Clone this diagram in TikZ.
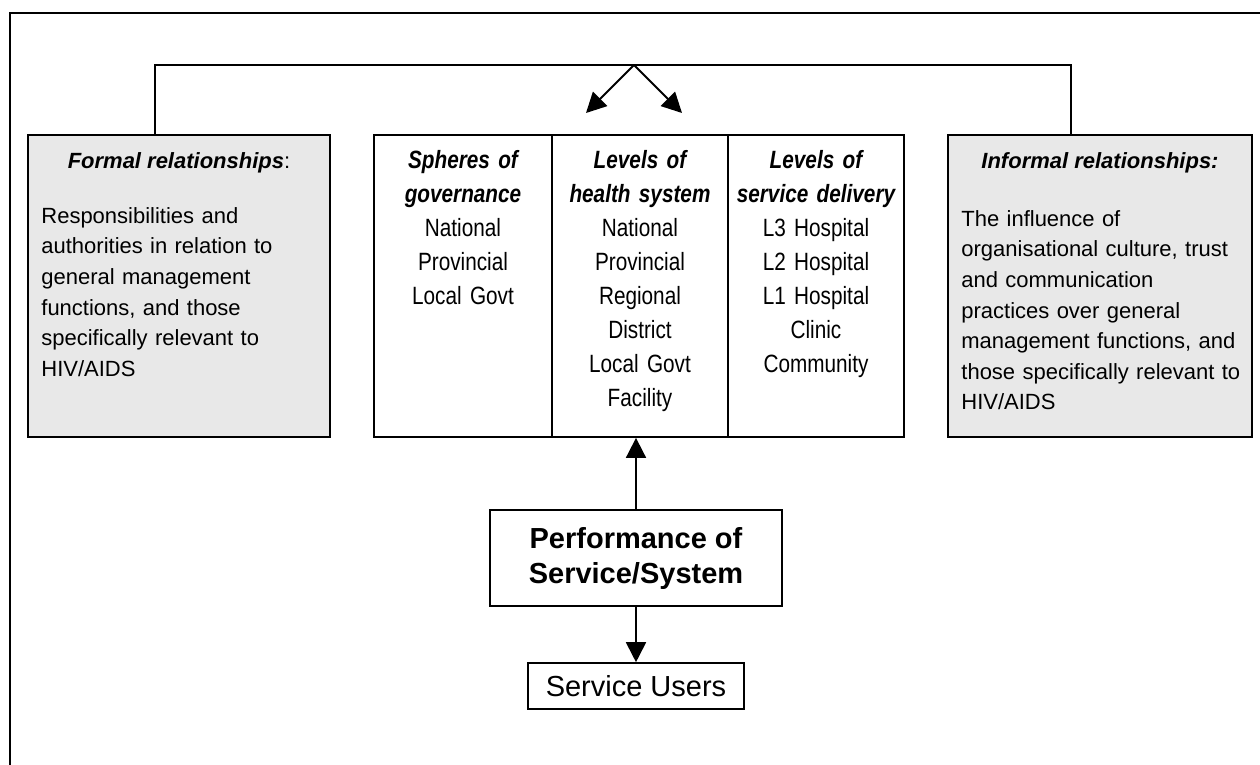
\documentclass[tikz,border=0pt]{standalone}
\usepackage{fontspec}
\setmainfont{Liberation Sans}
\newfontfamily\narrowfont[FakeStretch=0.83]{Liberation Sans}
\usetikzlibrary{arrows.meta}

\tikzset{
	sidebox/.style={draw, line width=0.9pt, fill=gray!18, minimum width=151pt, minimum height=151pt, inner sep=0pt},
	colbox/.style={draw, line width=0.9pt, minimum width=88pt, minimum height=151pt, inner sep=0pt},
	coltext/.style={anchor=north, inner sep=0pt, align=center, text width=86pt, font=\narrowfont\fontsize{12.5}{17}\selectfont},
	sidehead/.style={inner sep=0pt, font=\fontsize{11}{15.3}\selectfont\bfseries\itshape},
	sidetext/.style={anchor=north west, inner sep=0pt, align=left, text width=146pt, font=\fontsize{11}{15.3}\selectfont},
	arr/.style={line width=0.9pt, -{Triangle[length=10pt,width=10pt]}}
}

\begin{document}
\begin{tikzpicture}[x=0.5pt,y=-0.5pt]
\useasboundingbox (0,0) rectangle (1260,765);

% frame
\draw[line width=1.1pt] (10,765) -- (10,13) -- (1260,13);

% side boxes
\node[sidebox] (formal) at (179,286) {};
\node[sidehead] (formalhead) at (179,163) {Formal relationships{\mdseries\upshape:}};
\node[sidetext] (formaltext) at (41,207) {Responsibilities and\\authorities in relation to\\general management\\functions, and those\\specifically relevant to\\HIV/AIDS};

\node[sidebox, minimum width=152pt] (informal) at (1100,286) {};
\node[sidehead] (informalhead) at (1100,163) {Informal relationships:};
\node[sidetext] (informaltext) at (961,210) {The influence of\\organisational culture, trust\\and communication\\practices over general\\management functions, and\\those specifically relevant to\\HIV/AIDS};

% table of levels
\node[colbox, minimum width=89pt] (spheres) at (463,286) {};
\node[colbox] (health) at (640,286) {};
\node[colbox] (delivery) at (816,286) {};

\node[coltext] (spherestext) at (463,150) {{\bfseries\itshape Spheres of\\governance}\\National\\Provincial\\Local Govt};
\node[coltext] (healthtext) at (640,150) {{\bfseries\itshape Levels of\\health system}\\National\\Provincial\\Regional\\District\\Local Govt\\Facility};
\node[coltext] (deliverytext) at (816,150) {{\bfseries\itshape Levels of\\service delivery}\\L3 Hospital\\L2 Hospital\\L1 Hospital\\Clinic\\Community};

% performance and users
\node[draw, line width=1.4pt, minimum width=146pt, minimum height=48pt, align=center, font=\fontsize{14.5}{17.5}\selectfont\bfseries] (perf) at (636,558) {Performance of\\Service/System};
\node[draw, line width=0.8pt, minimum width=108pt, minimum height=23pt, font=\fontsize{14.5}{17.5}\selectfont] (users) at (636,686) {Service Users};

\draw[arr] (perf.north) -- (perf.north |- health.south);
\draw[arr] (perf.south) -- (users.north);

% top bracket
\coordinate (lt) at (155,65);
\coordinate (rt) at (1071,65);
\coordinate (fork) at (634,65);
\coordinate (tipl) at (586,113);
\coordinate (tipr) at (682,113);

\draw[line width=0.9pt] (lt |- formal.north) -- (lt) -- (rt) -- (rt |- informal.north);
\draw[arr] (fork) -- (tipl);
\draw[arr] (fork) -- (tipr);

\end{tikzpicture}
\end{document}
